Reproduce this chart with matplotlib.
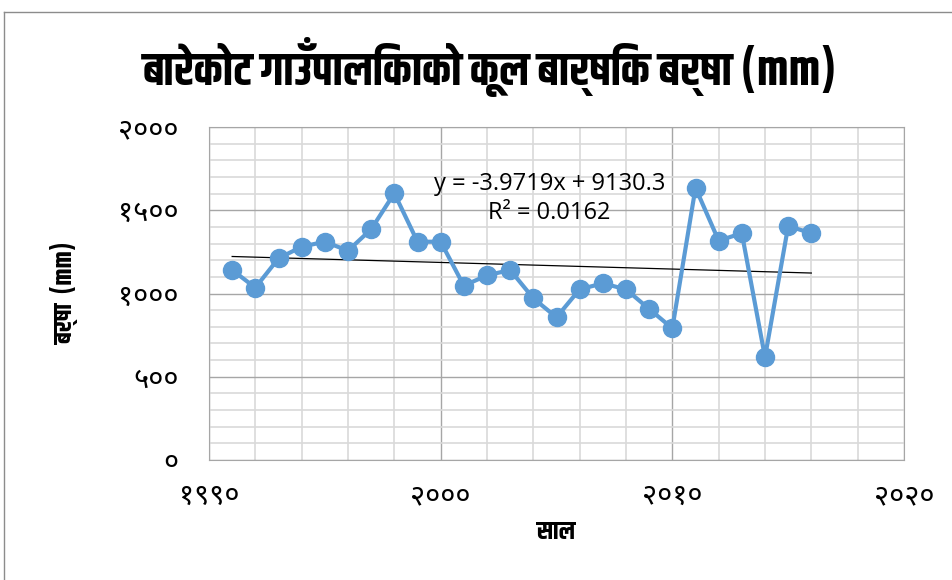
import matplotlib
matplotlib.use('Agg')
import matplotlib.pyplot as plt
import numpy as np
from matplotlib import font_manager
from matplotlib.lines import Line2D
from matplotlib.ticker import MultipleLocator, FuncFormatter

# Annual rainfall data
years = [1991, 1992, 1993, 1994, 1995, 1996, 1997, 1998, 1999, 2000,
         2001, 2002, 2003, 2004, 2005, 2006, 2007, 2008, 2009, 2010,
         2011, 2012, 2013, 2014, 2015, 2016]
rain = [1141, 1035, 1211, 1281, 1311, 1257, 1386, 1602, 1311, 1311,
        1047, 1109, 1141, 971, 857, 1025, 1061, 1025, 907, 791,
        1635, 1317, 1362, 617, 1405, 1362]

# Linear trendline from the chart label
slope = -3.9719
intercept = 9130.3
r2 = 0.0162

title = 'बारेकोट गाउँपालिकाको कूल बार्षिक बर्षा (mm)'
xlabel = 'साल'
ylabel = 'बर्षा  (mm)'

DEV_DIGITS = str.maketrans('0123456789', '०१२३४५६७८९')


def pick(cands, bold=False):
    # first installed family from cands (with a real bold face if asked)
    for c in cands:
        for f in font_manager.fontManager.ttflist:
            if f.name == c and (not bold or f.weight >= 600):
                return c
    return 'DejaVu Sans'


dev = pick(['Noto Sans Devanagari', 'Mukta', 'Hind', 'Poppins', 'FreeSans'])
dev_bold = pick(['Khand', 'Arya', 'Amiko', 'Biryani', 'FreeSans'], bold=True)
plt.rcParams['font.family'] = [dev, 'DejaVu Sans']
bold_fam = [dev_bold, 'DejaVu Sans']

fig = plt.figure(figsize=(9.53, 5.8), dpi=100)
ax = fig.add_axes([209 / 953, 1 - 460 / 580, 695 / 953, 333 / 580])

ax.plot(years, rain, color='#5B9BD5', linewidth=3, marker='o',
        markersize=13, zorder=3)

tx = np.array([years[0], years[-1]])
ax.plot(tx, slope * tx + intercept, color='black', linewidth=0.9, zorder=2)

ax.set_xlim(1990, 2020)
ax.set_ylim(0, 2000)
ax.xaxis.set_major_locator(MultipleLocator(10))
ax.xaxis.set_minor_locator(MultipleLocator(2))
ax.yaxis.set_major_locator(MultipleLocator(500))
ax.yaxis.set_minor_locator(MultipleLocator(100))
fmt = FuncFormatter(lambda v, p: str(int(round(v))).translate(DEV_DIGITS))
ax.xaxis.set_major_formatter(fmt)
ax.yaxis.set_major_formatter(fmt)

ax.grid(which='minor', color='#d9d9d9', linewidth=1.2)
ax.grid(which='major', color='#a6a6a6', linewidth=1.0)
ax.set_axisbelow(True)
ax.tick_params(which='both', length=0)
ax.tick_params(axis='x', pad=16, labelsize=21)
ax.tick_params(axis='y', pad=22, labelsize=21)
for s in ax.spines.values():
    s.set_color('#a6a6a6')

ax.set_xlabel(xlabel, fontsize=18, fontweight='bold', labelpad=6,
              family=bold_fam)
ax.set_ylabel(ylabel, fontsize=18, fontweight='bold', labelpad=28,
              family=bold_fam)
fig.text(490 / 953, 1 - 67 / 580, title, ha='center', va='center',
         fontsize=33, fontweight='bold', family=bold_fam)

eq = f'y = {slope}x + {intercept}'
ax.text(2004.7, 1658, eq, ha='center', va='center', fontsize=17,
        family=['Open Sans', 'DejaVu Sans'])
ax.text(2004.7, 1483, f'R² = {r2}', ha='center', va='center', fontsize=17,
        family=['Open Sans', 'DejaVu Sans'])

# chart frame (only top and left edges visible in the crop)
fig.add_artist(Line2D([4 / 953, 1], [1 - 12 / 580, 1 - 12 / 580],
                      transform=fig.transFigure, color='#8c8c8c', linewidth=1))
fig.add_artist(Line2D([4 / 953, 4 / 953], [0, 1 - 12 / 580],
                      transform=fig.transFigure, color='#8c8c8c', linewidth=1))

fig.savefig('out.png', dpi=100)
